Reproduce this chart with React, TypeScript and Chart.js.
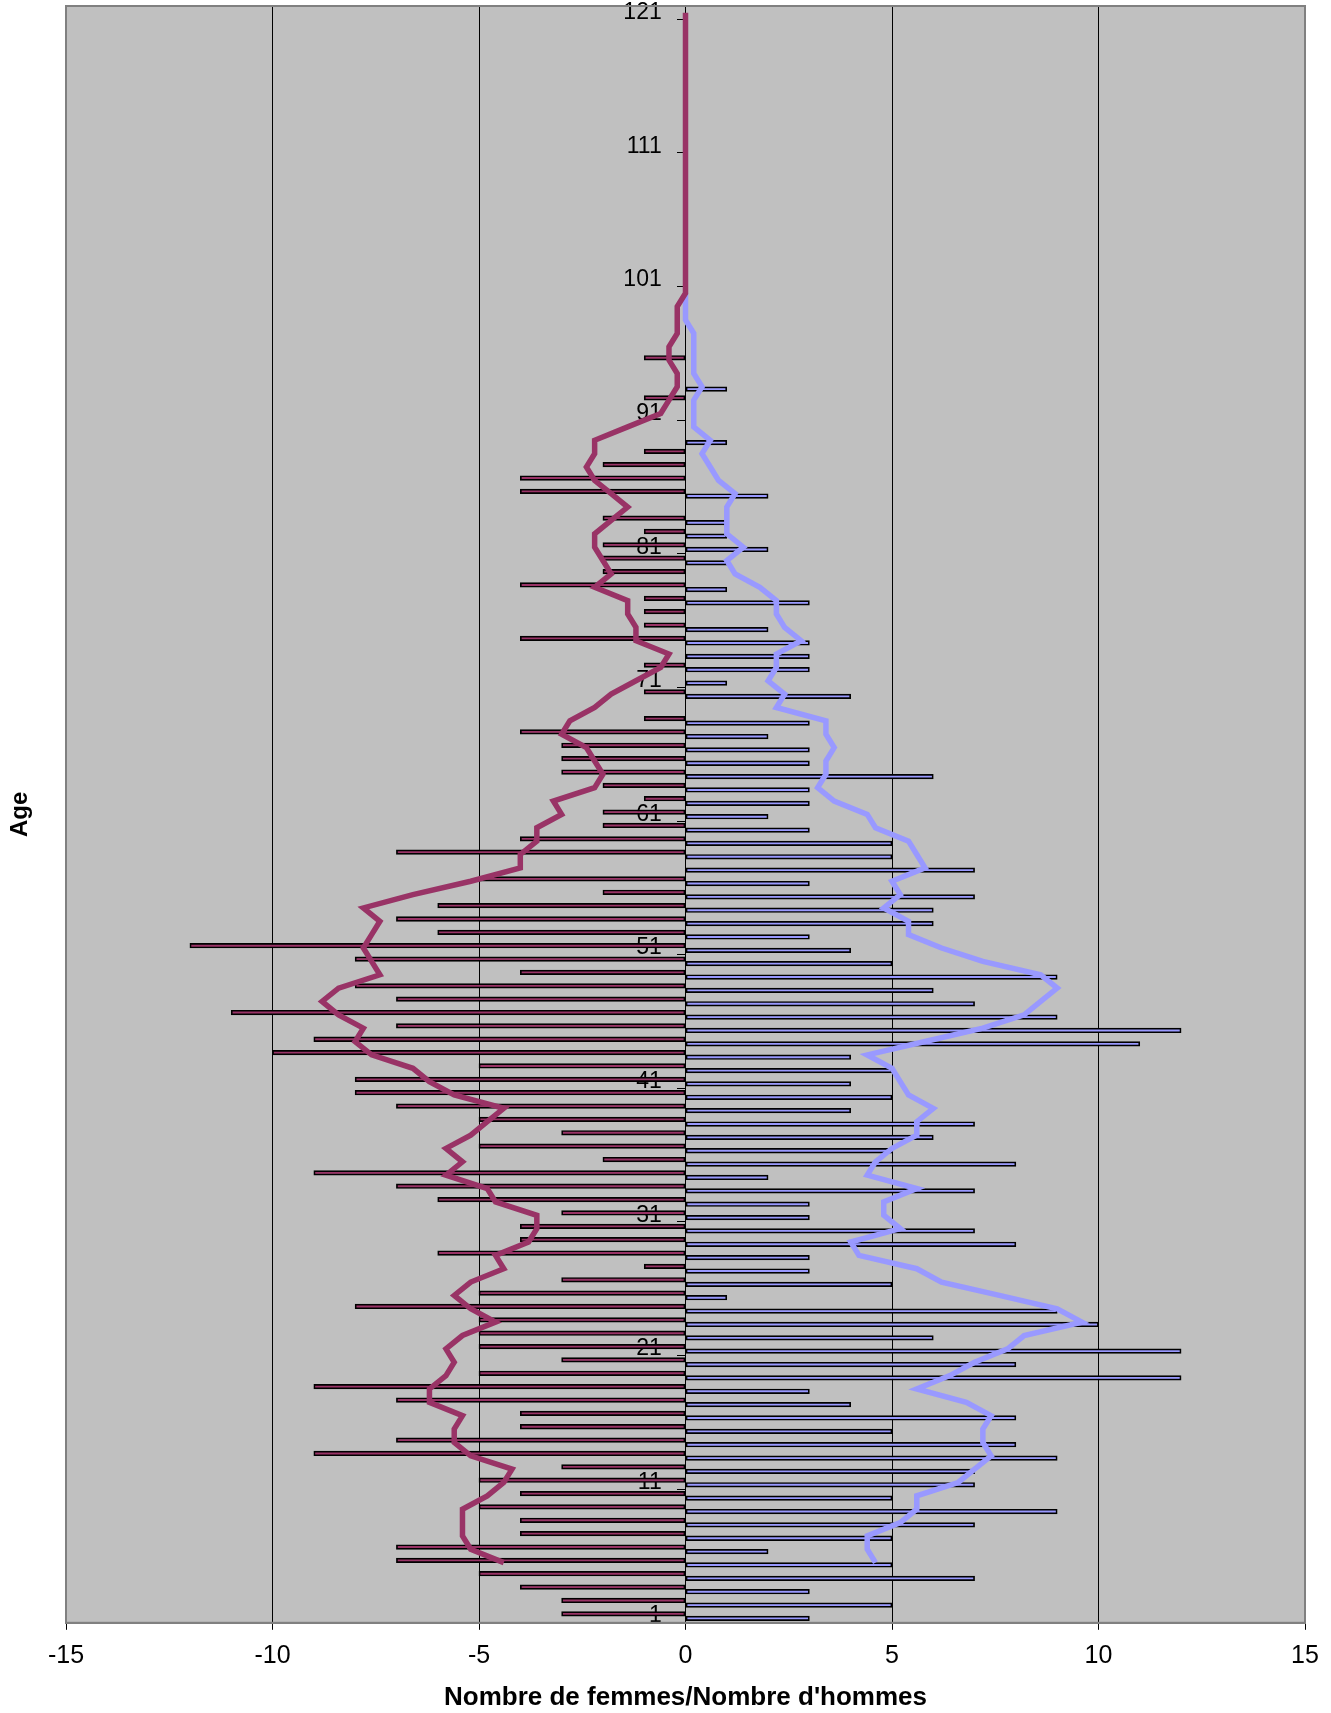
import React, { useEffect, useRef } from 'react';
import { Chart, registerables } from 'chart.js';

Chart.register(...registerables);

// Ages (category axis, 1 at the bottom)
const ageLabels = [
  '1','2','3','4','5','6','7','8','9','10',
  '11','12','13','14','15','16','17','18','19','20',
  '21','22','23','24','25','26','27','28','29','30',
  '31','32','33','34','35','36','37','38','39','40',
  '41','42','43','44','45','46','47','48','49','50',
  '51','52','53','54','55','56','57','58','59','60',
  '61','62','63','64','65','66','67','68','69','70',
  '71','72','73','74','75','76','77','78','79','80',
  '81','82','83','84','85','86','87','88','89','90',
  '91','92','93','94','95','96','97','98','99','100',
  '101','102','103','104','105','106','107','108','109','110',
  '111','112','113','114','115','116','117','118','119','120',
  '121'
];

// Tick labels shown on the age axis
const labeledAges = ['1','11','21','31','41','51','61','71','81','91','101','111','121'];

// Number of women per age (negative side)
const womenCounts = [
  -3,-3,-4,-5,-7,-7,-4,-4,-5,-4,
  -5,-3,-9,-7,-4,-4,-7,-9,-5,-3,
  -5,-5,-5,-8,-5,-3,-1,-6,-4,-4,
  -3,-6,-7,-9,-2,-5,-3,-5,-7,-8,
  -8,-5,-10,-9,-7,-11,-7,-8,-4,-8,
  -12,-6,-7,-6,-2,-5,0,-7,-4,-2,
  -2,-1,-2,-3,-3,-3,-4,-1,0,-1,
  0,-1,0,-4,-1,-1,-1,-4,-2,-2,
  -2,-1,-2,0,-4,-4,-2,-1,0,0,
  0,-1,0,0,-1,0,0,0,0,0,
  0,0,0,0,0,0,0,0,0,0,
  0,0,0,0,0,0,0,0,0,0,
  0
];

// Number of men per age (positive side)
const menCounts = [
  3,5,3,7,5,2,5,7,9,5,
  7,7,9,8,5,8,4,3,12,8,
  12,6,10,9,1,5,3,3,8,7,
  3,3,7,2,8,5,6,7,4,5,
  4,5,4,11,12,9,7,6,9,5,
  4,3,6,6,7,3,7,5,5,3,
  2,3,3,6,3,3,2,3,0,4,
  1,3,3,3,2,0,3,1,0,1,
  2,1,1,0,2,0,0,0,1,0,
  0,0,1,0,0,0,0,0,0,0,
  0,0,0,0,0,0,0,0,0,0,
  0,0,0,0,0,0,0,0,0,0,
  0
];

// Moving-average trend line, women
const womenTrend = [
  null,null,null,null,-4.4,-5.2,-5.4,-5.4,-5.4,-4.8,
  -4.4,-4.2,-5.2,-5.6,-5.6,-5.4,-6.2,-6.2,-5.8,-5.6,
  -5.8,-5.4,-4.6,-5.2,-5.6,-5.2,-4.4,-4.6,-3.8,-3.6,
  -3.6,-4.6,-4.8,-5.8,-5.4,-5.8,-5.2,-4.8,-4.4,-5.6,
  -6.2,-6.6,-7.6,-8.0,-7.8,-8.4,-8.8,-8.4,-7.4,-7.6,
  -7.8,-7.6,-7.4,-7.8,-6.6,-5.2,-4.0,-4.0,-3.6,-3.6,
  -3.0,-3.2,-2.2,-2.0,-2.2,-2.4,-3.0,-2.8,-2.2,-1.8,
  -1.2,-0.6,-0.4,-1.2,-1.2,-1.4,-1.4,-2.2,-1.8,-2.0,
  -2.2,-2.2,-1.8,-1.4,-1.8,-2.2,-2.4,-2.2,-2.2,-1.4,
  -0.6,-0.4,-0.2,-0.2,-0.4,-0.4,-0.2,-0.2,-0.2,0,
  0,0,0,0,0,0,0,0,0,0,
  0,0,0,0,0,0,0,0,0,0,
  0
];

// Moving-average trend line, men
const menTrend = [
  null,null,null,null,4.6,4.4,4.4,5.2,5.6,5.6,
  6.6,7.0,7.4,7.2,7.2,7.4,6.8,5.6,6.4,7.0,
  7.8,8.2,9.6,9.0,7.6,6.2,5.6,4.2,4.0,5.2,
  4.8,4.8,5.6,4.4,4.6,5.0,5.6,5.6,6.0,5.4,
  5.2,5.0,4.4,5.8,7.2,8.2,8.6,9.0,8.6,7.2,
  6.2,5.4,5.4,4.8,5.2,5.0,5.8,5.6,5.4,4.6,
  4.4,3.6,3.2,3.4,3.4,3.6,3.4,3.4,2.2,2.4,
  2.0,2.2,2.2,2.8,2.4,2.2,2.2,1.8,1.2,1.0,
  1.4,1.0,1.0,1.0,1.2,0.8,0.6,0.4,0.6,0.2,
  0.2,0.2,0.4,0.2,0.2,0.2,0.2,0,0,0,
  null,null,null,null,null,null,null,null,null,null,
  null,null,null,null,null,null,null,null,null,null,
  null
];

const xTickValues = [-15, -10, -5, 0, 5, 10, 15];

const FONT = '"Liberation Sans", Arial, Helvetica, sans-serif';
// gap between the age labels and the vertical axis at x = 0
const LABEL_GAP = '\u00A0\u00A0\u00A0\u2009';

const plotFrame = {
  id: 'plotFrame',
  beforeDraw(chart: any) {
    const { ctx, chartArea: a } = chart;
    ctx.save();
    ctx.fillStyle = '#C0C0C0';
    ctx.fillRect(a.left, a.top, a.right - a.left, a.bottom - a.top);
    ctx.restore();
  },
  afterDraw(chart: any) {
    const { ctx, chartArea: a } = chart;
    ctx.save();
    ctx.strokeStyle = '#808080';
    ctx.lineWidth = 2;
    ctx.strokeRect(a.left, a.top, a.right - a.left, a.bottom - a.top);
    ctx.restore();
  },
};

export default function App() {
  const ref = useRef<HTMLCanvasElement>(null);

  useEffect(() => {
    document.body.style.margin = '0';
    const xMin = xTickValues[0];
    const xMax = xTickValues[xTickValues.length - 1];
    const chart = new Chart(ref.current as HTMLCanvasElement, {
      type: 'bar',
      data: {
        labels: ageLabels,
        datasets: [
          {
            type: 'line',
            label: 'Moyenne mobile femmes',
            data: womenTrend,
            indexAxis: 'y',
            xAxisID: 'x',
            yAxisID: 'y',
            borderColor: '#993366',
            backgroundColor: '#993366',
            borderWidth: 5.5,
            pointRadius: 0,
            tension: 0,
            fill: false,
            order: 0,
          } as any,
          {
            type: 'line',
            label: 'Moyenne mobile hommes',
            data: menTrend,
            indexAxis: 'y',
            xAxisID: 'x',
            yAxisID: 'y',
            borderColor: '#9999FF',
            backgroundColor: '#9999FF',
            borderWidth: 5.5,
            pointRadius: 0,
            tension: 0,
            fill: false,
            order: 1,
          } as any,
          {
            type: 'bar',
            label: 'Femmes',
            data: womenCounts.map((v) => (v === 0 ? null : v)),
            xAxisID: 'x',
            yAxisID: 'y',
            backgroundColor: '#993366',
            borderColor: '#000000',
            borderWidth: 1.7,
            borderSkipped: false,
            barThickness: 4.6,
            order: 2,
          } as any,
          {
            type: 'bar',
            label: 'Hommes',
            data: menCounts.map((v) => (v === 0 ? null : v)),
            xAxisID: 'x',
            yAxisID: 'y',
            backgroundColor: '#9999FF',
            borderColor: '#000000',
            borderWidth: 1.7,
            borderSkipped: false,
            barThickness: 4.6,
            order: 3,
          } as any,
        ],
      },
      options: {
        indexAxis: 'y',
        responsive: false,
        animation: false,
        layout: { padding: { left: 0, right: 26, top: 6, bottom: 0 } },
        plugins: {
          legend: { display: false },
          tooltip: { enabled: false },
        },
        scales: {
          x: {
            type: 'linear',
            min: xMin,
            max: xMax,
            ticks: {
              stepSize: 5,
              color: '#000',
              font: { size: 25, family: FONT },
              padding: 11,
            },
            grid: {
              color: (c: any) =>
                c.tick && (c.tick.value === xMin || c.tick.value === xMax)
                  ? 'rgba(0,0,0,0)'
                  : '#000',
              lineWidth: 1,
              tickColor: '#000',
              tickLength: 7,
            },
            border: { color: '#808080', width: 2 },
            title: {
              display: true,
              text: "Nombre de femmes/Nombre d'hommes",
              color: '#000',
              font: { size: 26, weight: 'bold', family: FONT },
              padding: { top: 0, bottom: 0 },
            },
          },
          y: {
            type: 'category',
            reverse: true,
            offset: true,
            position: { x: 0 } as any,
            z: 1,
            afterFit: (s: any) => {
              s.paddingTop = 0;
              s.paddingBottom = 0;
              s.paddingLeft = 0;
              s.paddingRight = 0;
            },
            ticks: {
              autoSkip: false,
              color: '#000',
              font: { size: 23, family: FONT },
              padding: 0,
              callback: (_v: any, i: number) =>
                labeledAges.includes(ageLabels[i]) ? ageLabels[i] + LABEL_GAP : '',
            },
            grid: {
              drawOnChartArea: false,
              offset: true,
              tickLength: 8,
              tickColor: (c: any) => (c.index % 10 === 0 ? '#000' : 'rgba(0,0,0,0)'),
            },
            border: { color: '#000', width: 1 },
          },
          ageTitle: {
            type: 'linear',
            axis: 'y',
            position: 'left',
            ticks: { display: false },
            grid: { display: false, drawTicks: false },
            border: { display: false },
            title: {
              display: true,
              text: 'Age',
              color: '#000',
              font: { size: 24, weight: 'bold', family: FONT },
              padding: { top: 5.6, bottom: 31.6 },
            },
          } as any,
        },
      } as any,
      plugins: [plotFrame],
    });
    return () => chart.destroy();
  }, []);

  return (
    <canvas
      ref={ref}
      width={1331}
      height={1713}
      style={{ display: 'block', width: '1331px', height: '1713px' }}
    />
  );
}
